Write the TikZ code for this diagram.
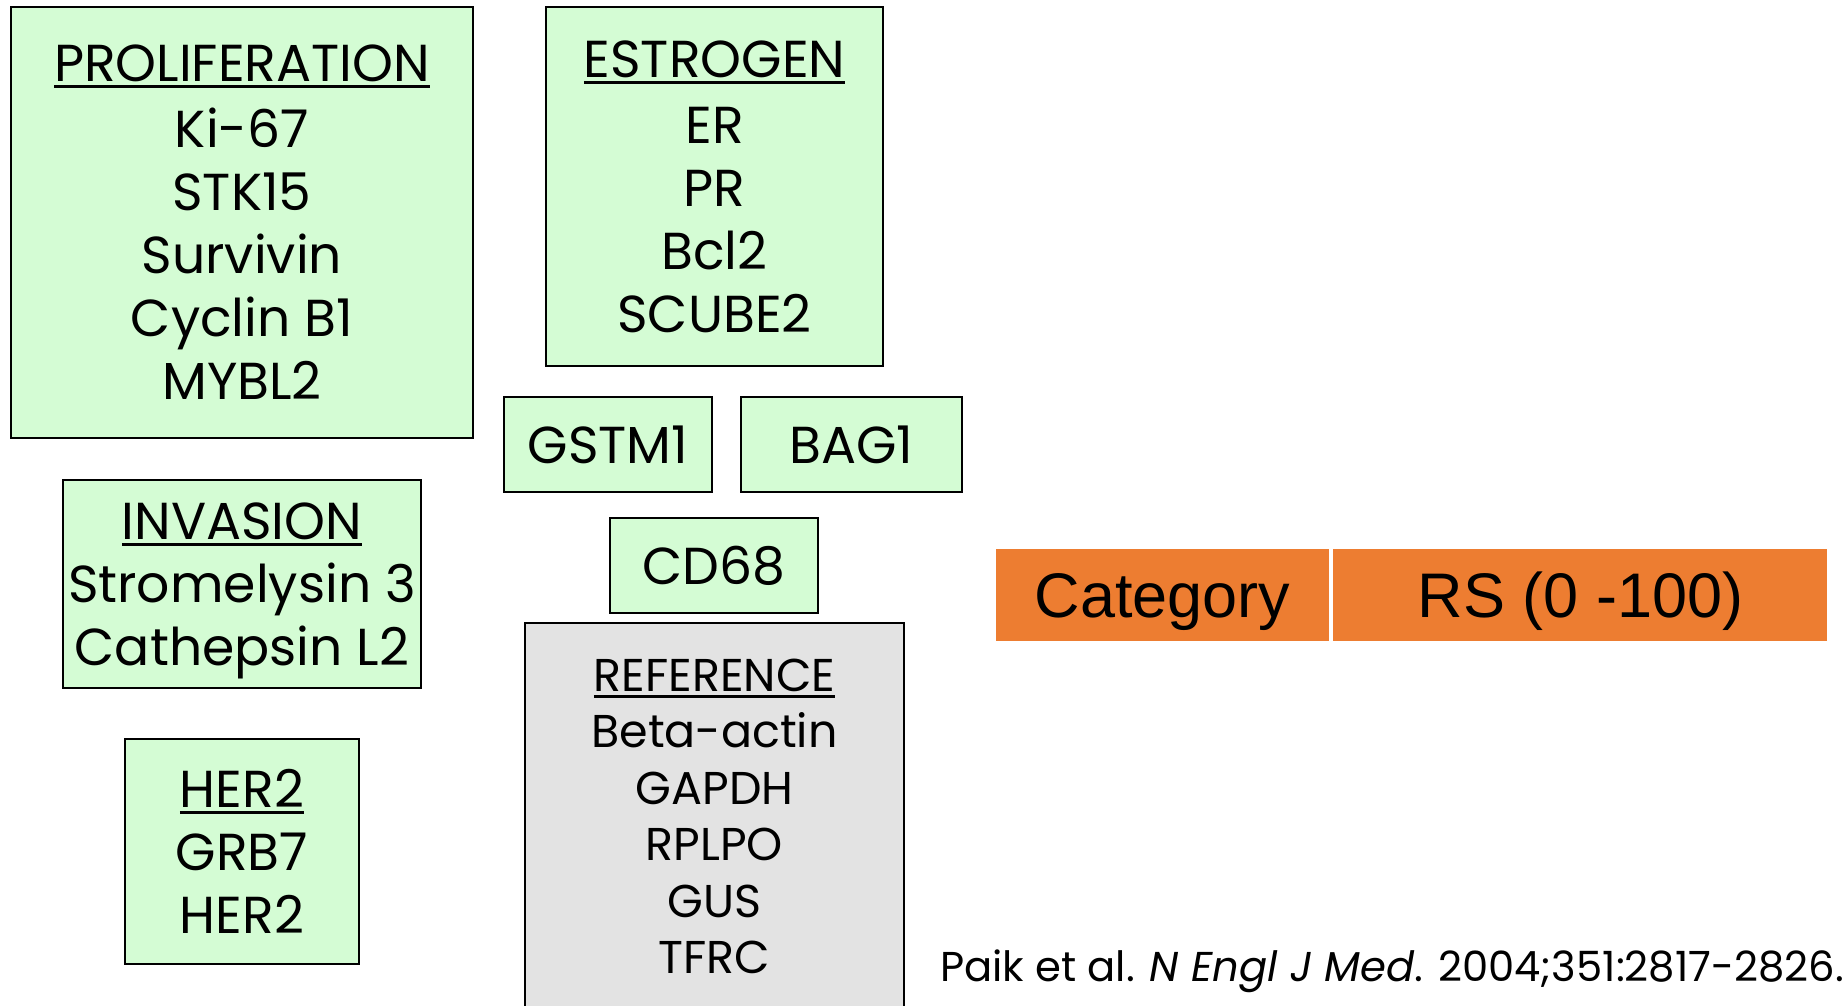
\documentclass[tikz,border=0pt]{standalone}
\usepackage{fontspec}
\setmainfont{Poppins}
\newfontfamily\arialfont{Liberation Sans}
\usetikzlibrary{positioning}
\definecolor{genegreen}{HTML}{D4FCD4}
\definecolor{refgrey}{HTML}{E3E3E3}
\definecolor{rsorange}{HTML}{ED7D31}
\newcommand{\grouptitle}[1]{\setbox0\hbox{#1}\rlap{\rule[-6.5pt]{\wd0}{3pt}}\box0}
\newcommand{\genefont}{\fontsize{52}{63}\selectfont}
\newcommand{\reffont}{\fontsize{46}{56.5}\selectfont}

\begin{document}
\begin{tikzpicture}[
  x=1pt,y=-1pt,
  group/.style={draw,line width=2pt,fill=genegreen,inner sep=0pt,align=center,font=\genefont},
  score/.style={fill=rsorange,inner sep=0pt,minimum height=92pt,text depth=0pt,font=\arialfont\fontsize{63}{63}\selectfont}
]
\useasboundingbox (0,0) rectangle (1845,1005);

\node[group,minimum width=462pt,minimum height=431pt] (prolif) at (242,222.5)
  {\grouptitle{PROLIFERATION}\\[3pt] Ki-67\\ STK15\\ Survivin\\ Cyclin B1\\ MYBL2};
\node[group,minimum width=337pt,minimum height=359pt] (estro) at (714.5,186.5)
  {\grouptitle{ESTROGEN}\\[3pt] ER\\ PR\\ Bcl2\\ SCUBE2};
\node[group,minimum width=207.5pt,minimum height=95pt] (gstm) at (608,444.5) {GSTM1};
\node[group,minimum width=221pt,minimum height=95pt] (bag) at (851.5,444.5) {BAG1};
\node[group,minimum width=207.5pt,minimum height=95pt] (cd) at (714,565.5) {CD68};
\node[group,minimum width=358pt,minimum height=208pt,text depth=0pt] (inv) at (242,584)
  {\grouptitle{INVASION}\\ Stromelysin 3\\ Cathepsin L2};
\node[group,minimum width=233.5pt,minimum height=225pt] (her) at (242,851.5)
  {\grouptitle{HER2}\\ GRB7\\ HER2};
\node[group,fill=refgrey,font=\reffont,minimum width=379pt,minimum height=387pt] (ref) at (714.5,816.5)
  {\grouptitle{REFERENCE}\\ Beta-actin\\ GAPDH\\ RPLPO\\ GUS\\ TFRC};

\node[score,minimum width=333pt] (cat) at (1162.5,595) {Category};
\node[score,minimum width=494pt,right=4pt of cat] (rs) {RS (0 -100)};

\node[anchor=base west,inner sep=0pt,font=\fontsize{41.7}{41.7}\selectfont] (cite) at (940,981)
  {Paik et al. \textit{N Engl J Med}. 2004;351:2817-2826.};
\end{tikzpicture}
\end{document}
